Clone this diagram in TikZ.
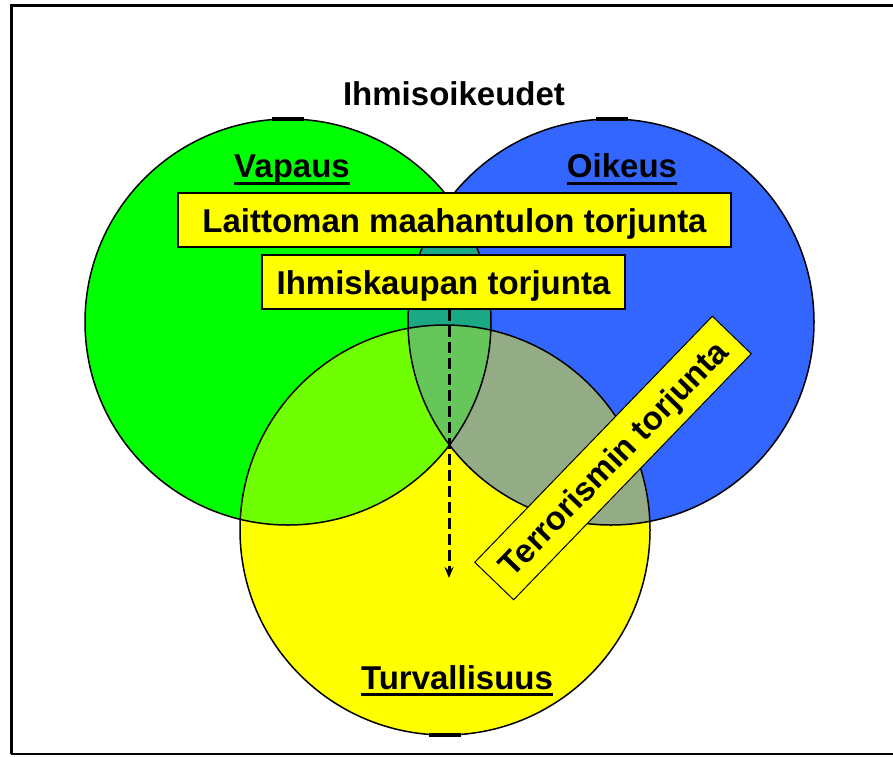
\documentclass[tikz,border=0pt]{standalone}
\usepackage{fontspec}
\setmainfont{Liberation Sans}
\usetikzlibrary{arrows.meta}
\definecolor{cgreen}{HTML}{00FF00}
\definecolor{cblue}{HTML}{3366FF}
\definecolor{cyellow}{HTML}{FFFF00}
\definecolor{cteal}{HTML}{1BA884}
\definecolor{cgy}{HTML}{70FF00}
\definecolor{cby}{HTML}{94AC86}
\definecolor{cgby}{HTML}{66C65A}
\begin{document}
\begin{tikzpicture}[x=1pt,y=-1pt,
  lbl/.style={font=\fontsize{33}{40}\selectfont\bfseries, inner sep=0pt, text height=24pt, text depth=0pt},
  box/.style={lbl, draw=black, line width=1.5pt, fill=cyellow},
  outline/.style={draw=black, line width=1.5pt},
  ul/.style={line width=3pt},
  tick/.style={line width=3.5pt},
  frame/.style={line width=3pt},
  dasharrow/.style={line width=3pt, dash pattern=on 11pt off 5pt, -{Stealth[length=11pt,width=9pt]}}
]
\useasboundingbox (0,0) rectangle (893,756);
\fill[white] (0,0) rectangle (893,756);
% frame
\draw[frame] (11,754) -- (11,5) -- (893,5);
\draw[line width=1.5pt] (11,754) -- (893,754);

\coordinate (G) at (288,322);
\coordinate (B) at (611,322);
\coordinate (Y) at (445,530);
\def\rr{203pt}
% fills
\fill[cgreen] (G) circle (\rr);
\fill[cblue] (B) circle (\rr);
\begin{scope}
  \clip (G) circle (\rr);
  \fill[cteal] (B) circle (\rr);
\end{scope}
\fill[cyellow] (Y) circle (205pt);
\begin{scope}
  \clip (Y) circle (205pt);
  \fill[cgy] (G) circle (\rr);
  \fill[cby] (B) circle (\rr);
  \clip (G) circle (\rr);
  \fill[cgby] (B) circle (\rr);
\end{scope}
% outlines
\draw[outline] (G) circle (\rr);
\draw[outline] (B) circle (\rr);
\draw[outline] (Y) circle (205pt);
\draw[tick] (272,119) -- (304,119);
\draw[tick] (596,119) -- (628,119);
\draw[tick] (429,735) -- (461,735);

% labels
\node[lbl] (title) at (454,93) {Ihmisoikeudet};
\node[lbl] (vap) at (292,165.5) {Vapaus};
\node[lbl] (oik) at (622,165.5) {Oikeus};
\node[lbl] (tur) at (457,677.5) {Turvallisuus};
\draw[ul] ([yshift=-5.5pt]vap.south west) -- ([yshift=-5.5pt]vap.south east);
\draw[ul] ([yshift=-5.5pt]oik.south west) -- ([yshift=-5.5pt]oik.south east);
\draw[ul] ([yshift=-4.5pt]tur.south west) -- ([yshift=-4.5pt]tur.south east);

% boxes
\node[box, minimum width=553pt, minimum height=54pt] (lait) at (454.5,220) {Laittoman maahantulon torjunta};
\node[box, minimum width=363pt, minimum height=54pt] (ihm) at (443.5,282) {Ihmiskaupan torjunta};
\node[box, line width=1pt, rotate=46, minimum width=342pt, minimum height=54pt] (terr) at (613,458) {Terrorismin torjunta};

% arrow
\coordinate (aend) at (449,578);
\draw[dasharrow] ([xshift=5.5pt]ihm.south) -- (aend);
\end{tikzpicture}
\end{document}
